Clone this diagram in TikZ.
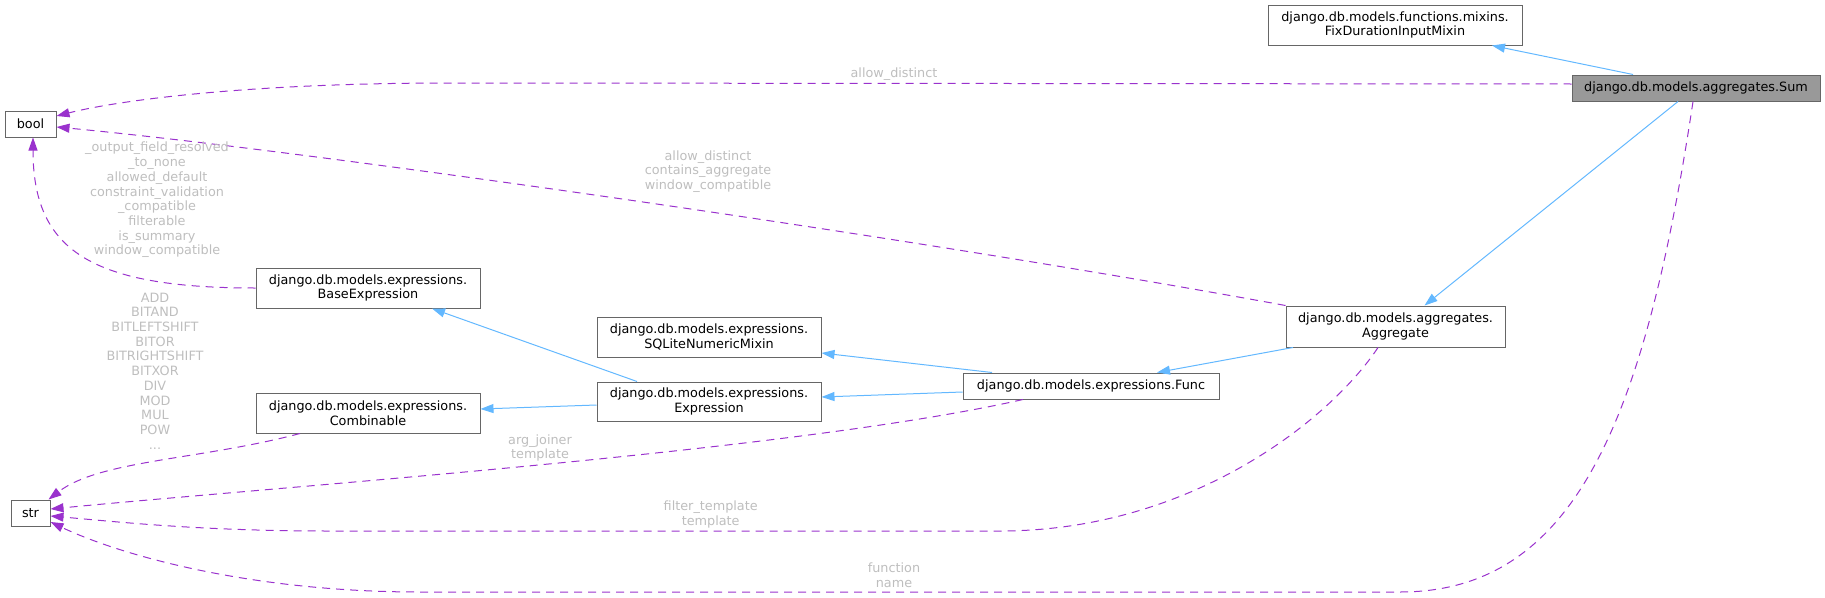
\documentclass[tikz,border=0pt]{standalone}
\usepackage{fontspec}
\setmainfont{DejaVu Sans}
\usetikzlibrary{arrows.meta}
\definecolor{edgeblue}{HTML}{63B8FF}
\definecolor{usepurple}{HTML}{9A32CD}
\definecolor{boxgray}{HTML}{666666}
\definecolor{sumfill}{HTML}{999999}
\definecolor{labelgray}{HTML}{BEBEBE}

\begin{document}
\begin{tikzpicture}[
  x=1pt,y=-1pt,
  cls/.style={draw=boxgray,fill=white,line width=1pt,align=center,inner sep=0pt,font=\fontsize{12.8}{14.7}\selectfont},
  one/.style={cls,minimum height=26pt},
  two/.style={cls,minimum height=40pt},
  inherit/.style={-{Triangle[length=13pt,width=9pt]},edgeblue,line width=1pt},
  uses/.style={-{Triangle[length=13pt,width=9pt]},usepurple,line width=1pt,dash pattern=on 8pt off 6pt},
  member/.style={text=labelgray,align=center,inner sep=0pt,font=\fontsize{12.8}{14.7}\selectfont}
]
\useasboundingbox (0,0) rectangle (1825,597);
% classes
\node[one,fill=sumfill,minimum width=248pt] (sum) at (1696,88) {django.db.models.aggregates.Sum};
\node[two,minimum width=254pt] (fix) at (1395,25) {django.db.models.functions.mixins.\\FixDurationInputMixin};
\node[one,minimum width=51pt] (bool) at (30.5,124) {bool};
\node[one,minimum width=39pt] (str) at (30.5,513) {str};
\node[two,minimum width=224pt] (base) at (368,288) {django.db.models.expressions.\\BaseExpression};
\node[two,minimum width=224pt] (comb) at (368,413) {django.db.models.expressions.\\Combinable};
\node[two,minimum width=224pt] (sqlite) at (709,337) {django.db.models.expressions.\\SQLiteNumericMixin};
\node[two,minimum width=224pt,minimum height=39pt] (expr) at (709,401.5) {django.db.models.expressions.\\Expression};
\node[one,minimum width=256pt] (func) at (1091,386) {django.db.models.expressions.Func};
\node[two,minimum width=219pt,minimum height=41pt] (agg) at (1395.5,326.5) {django.db.models.aggregates.\\Aggregate};
% inheritance
\draw[inherit] ([xshift=-63pt]sum.north) -- ([xshift=97pt]fix.south);
\draw[inherit] ([xshift=-18pt]sum.south) -- ([xshift=29pt]agg.north);
\draw[inherit] ([xshift=-102.5pt]agg.south) -- ([xshift=66pt]func.north);
\draw[inherit] ([xshift=-99pt]func.north) -- ([yshift=-16pt]sqlite.east);
\draw[inherit] ([yshift=-6pt]func.west) -- ([yshift=4.5pt]expr.east);
\draw[inherit] ([xshift=-72pt]expr.north) -- ([xshift=64pt]base.south);
\draw[inherit] ([yshift=-3.5pt]expr.west) -- ([yshift=4pt]comb.east);
% members
\draw[uses] ([yshift=4pt]sum.west) -- (450,83) .. controls (250,83) and (120,100) .. ([yshift=8pt]bool.east);
\draw[uses] (agg.north west) .. controls (900,235) and (300,150) .. ([yshift=-3pt]bool.east);
\draw[uses] (base.west) .. controls (90,288) and (33,250) .. ([xshift=2.5pt]bool.south);
\draw[uses] ([xshift=-68pt]comb.south) .. controls (200,460) and (100,460) .. ([xshift=-2pt]str.north east);
\draw[uses] ([xshift=-68pt]func.south) .. controls (800,450) and (300,485) .. ([yshift=4pt]str.east);
\draw[uses] ([xshift=-17.5pt]agg.south) .. controls (1330,420) and (1190,531) .. (1000,531) -- (330,531) .. controls (200,531) and (120,522) .. ([yshift=-3pt]str.east);
\draw[uses] ([xshift=-3pt]sum.south) .. controls (1645,420) and (1575,592) .. (1400,592) -- (420,592) .. controls (250,592) and (120,555) .. ([yshift=-9pt]str.east);
% labels
\node[member] (ldistinct) at (894,74) {allow\_distinct};
\node[member] (laggflags) at (708,171.5) {allow\_distinct\\contains\_aggregate\\window\_compatible};
\node[member] (lbaseflags) at (157,200) {\_output\_field\_resolved\\\_to\_none\\allowed\_default\\constraint\_validation\\\_compatible\\filterable\\is\_summary\\window\_compatible};
\node[member] (lops) at (155,371) {ADD\\BITAND\\BITLEFTSHIFT\\BITOR\\BITRIGHTSHIFT\\BITXOR\\DIV\\MOD\\MUL\\POW\\...};
\node[member] (ljoiner) at (540,448) {arg\_joiner\\template};
\node[member] (lfilter) at (710.7,514.5) {filter\_template\\template};
\node[member] (lfunction) at (894,575.5) {function\\name};
\end{tikzpicture}
\end{document}
